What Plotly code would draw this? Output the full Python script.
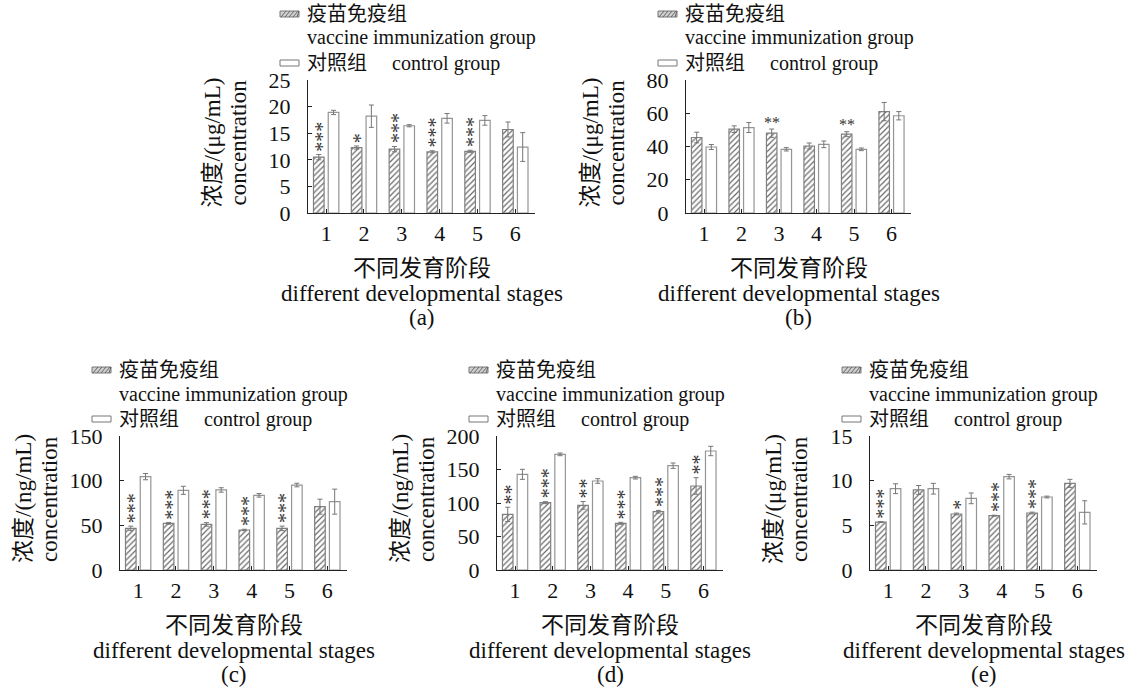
import plotly.graph_objects as go

W, H = 1137, 695

def px(x):
    return x / W

def py(y):
    return 1 - y / H

FONT = "Liberation Serif, Times New Roman, Noto Sans CJK SC, serif"

# ---------------- data ----------------
stages = ["1", "2", "3", "4", "5", "6"]

a_vac = [10.5, 12.3, 12.0, 11.5, 11.6, 15.7]
a_vac_err = [0.5, 0.3, 0.5, 0.2, 0.2, 1.4]
a_ctl = [18.9, 18.2, 16.4, 17.8, 17.4, 12.4]
a_ctl_err = [0.4, 2.1, 0.2, 0.9, 0.9, 2.7]
a_sig = ["***", "*", "***", "***", "***", ""]

b_vac = [45.4, 50.4, 48.0, 40.3, 47.4, 61.0]
b_vac_err = [3.2, 2.0, 2.5, 1.8, 1.5, 5.5]
b_ctl = [39.7, 51.4, 38.3, 41.3, 38.3, 58.5]
b_ctl_err = [1.5, 3.0, 1.0, 2.0, 0.8, 2.5]
b_sig = ["", "", "**", "", "**", ""]

c_vac = [46.6, 52.2, 51.0, 44.8, 46.6, 70.9]
c_vac_err = [2.5, 1.0, 2.0, 0.8, 2.5, 8.4]
c_ctl = [104.5, 89.2, 89.6, 83.6, 95.1, 76.5]
c_ctl_err = [3.5, 4.5, 2.5, 2.0, 2.0, 14.0]
c_sig = ["***", "***", "***", "***", "***", ""]

d_vac = [83.0, 100.5, 96.5, 69.7, 87.0, 125.4]
d_vac_err = [10.7, 1.5, 5.7, 1.5, 2.0, 12.4]
d_ctl = [142.8, 172.6, 132.8, 137.8, 155.7, 177.6]
d_ctl_err = [7.5, 2.0, 3.5, 2.0, 4.0, 7.0]
d_sig = ["**", "***", "**", "***", "***", "**"]

e_vac = [5.37, 8.96, 6.27, 6.08, 6.38, 9.7]
e_vac_err = [0.05, 0.5, 0.1, 0.05, 0.1, 0.45]
e_ctl = [9.1, 9.1, 8.02, 10.45, 8.17, 6.45]
e_ctl_err = [0.55, 0.6, 0.6, 0.25, 0.1, 1.3]
e_sig = ["***", "", "*", "***", "***", ""]

legend_vac_cn = "疫苗免疫组"
legend_vac_en = "vaccine immunization group"
legend_ctl = "对照组\u3000 control group"
x_title_cn = "不同发育阶段"
x_title_en = "different developmental stages"
y_title_en = "concentration"

panels = [
    dict(label="(a)", L=308, R=535, T=80, B=213, ymax=25, dtick=5, unit="浓度/(μg/mL)",
         vac=a_vac, vac_err=a_vac_err, ctl=a_ctl, ctl_err=a_ctl_err, sig=a_sig, horiz=False),
    dict(label="(b)", L=686, R=911, T=80, B=213, ymax=80, dtick=20, unit="浓度/(μg/mL)",
         vac=b_vac, vac_err=b_vac_err, ctl=b_ctl, ctl_err=b_ctl_err, sig=b_sig, horiz=True),
    dict(label="(c)", L=120, R=347, T=436, B=570, ymax=150, dtick=50, unit="浓度/(ng/mL)",
         vac=c_vac, vac_err=c_vac_err, ctl=c_ctl, ctl_err=c_ctl_err, sig=c_sig, horiz=False),
    dict(label="(d)", L=497, R=723, T=436, B=570, ymax=200, dtick=50, unit="浓度/(ng/mL)",
         vac=d_vac, vac_err=d_vac_err, ctl=d_ctl, ctl_err=d_ctl_err, sig=d_sig, horiz=False),
    dict(label="(e)", L=870, R=1097, T=436, B=570, ymax=15, dtick=5, unit="浓度/(μg/mL)",
         vac=e_vac, vac_err=e_vac_err, ctl=e_ctl, ctl_err=e_ctl_err, sig=e_sig, horiz=False),
]

xpos = list(range(1, len(stages) + 1))
BAR_W = 0.28
VAC_OFF = -0.335
CTL_OFF = 0.055
STAR_COLOR = "#333333"

fig = go.Figure()
annotations = []
shapes = []
layout = {}

for i, p in enumerate(panels):
    n = "" if i == 0 else str(i + 1)
    xa, ya = "x" + n, "y" + n
    fig.add_trace(go.Bar(
        x=xpos, y=p["vac"], width=BAR_W, offset=VAC_OFF, xaxis=xa, yaxis=ya,
        marker=dict(color="#cfcfcf", line=dict(color="#808080", width=1.2),
                    pattern=dict(shape="/", fgcolor="#686868", size=4, solidity=0.3)),
        error_y=dict(type="data", array=p["vac_err"], color="#777777", thickness=1, width=2.5),
        showlegend=False, hoverinfo="skip"))
    fig.add_trace(go.Bar(
        x=xpos, y=p["ctl"], width=BAR_W, offset=CTL_OFF, xaxis=xa, yaxis=ya,
        marker=dict(color="white", line=dict(color="#959595", width=1.2)),
        error_y=dict(type="data", array=p["ctl_err"], color="#777777", thickness=1, width=2.5),
        showlegend=False, hoverinfo="skip"))

    L, R, T, B = p["L"], p["R"], p["T"], p["B"]
    layout["xaxis" + n] = dict(
        domain=[px(L), px(R)], range=[0.52, 6.52], anchor=ya, automargin=False,
        showline=True, linecolor="#222", linewidth=1.3, mirror=False,
        ticks="inside", ticklen=4, tickcolor="#222", tickwidth=1,
        tickvals=xpos, ticktext=stages, showgrid=False, zeroline=False,
        tickfont=dict(family=FONT, size=22, color="#111"), ticklabelstandoff=0)
    layout["yaxis" + n] = dict(
        domain=[py(B), py(T)], range=[0, p["ymax"]], dtick=p["dtick"], anchor=xa,
        automargin=False, showline=True, linecolor="#222", linewidth=1.3,
        ticks="inside", ticklen=4, tickcolor="#222", tickwidth=1,
        showgrid=False, zeroline=False,
        tickfont=dict(family=FONT, size=22, color="#111"), ticklabelstandoff=12)

    # significance stars
    for k, s in enumerate(p["sig"]):
        if not s:
            continue
        top = p["vac"][k] + p["vac_err"][k]
        xc = xpos[k] + VAC_OFF + BAR_W / 2
        if p["horiz"]:
            annotations.append(dict(x=xc, y=top, xref=xa, yref=ya, text=s, showarrow=False,
                                    yanchor="middle", yshift=7,
                                    font=dict(family=FONT, size=16, color=STAR_COLOR)))
        else:
            annotations.append(dict(x=xc, y=top, xref=xa, yref=ya, text=s, showarrow=False,
                                    textangle=90, xanchor="center", yanchor="bottom",
                                    yshift=2, xshift=-3, borderpad=0,
                                    font=dict(family=FONT, size=20, color=STAR_COLOR)))

    cx = (L + R) / 2
    # x titles
    annotations.append(dict(x=px(cx), y=py(B + 55), xref="paper", yref="paper", text=x_title_cn,
                            showarrow=False, xanchor="center", yanchor="middle", borderpad=0,
                            font=dict(family=FONT, size=23, color="#111")))
    annotations.append(dict(x=px(cx), y=py(B + 80), xref="paper", yref="paper", text=x_title_en,
                            showarrow=False, xanchor="center", yanchor="middle", borderpad=0,
                            font=dict(family=FONT, size=23, color="#111")))
    annotations.append(dict(x=px(cx), y=py(B + 104), xref="paper", yref="paper", text=p["label"],
                            showarrow=False, xanchor="center", yanchor="middle", borderpad=0,
                            font=dict(family=FONT, size=23, color="#111")))
    # y titles
    cy = (T + B) / 2 - 4
    annotations.append(dict(x=px(L - 96), y=py(cy), xref="paper", yref="paper", text=p["unit"],
                            showarrow=False, textangle=-90, xanchor="center", yanchor="middle",
                            font=dict(family=FONT, size=23, color="#111")))
    annotations.append(dict(x=px(L - 70), y=py(cy), xref="paper", yref="paper", text=y_title_en,
                            showarrow=False, textangle=-90, xanchor="center", yanchor="middle",
                            font=dict(family=FONT, size=23, color="#111")))
    # legend
    tx = L - 3
    for txt, yy in ((legend_vac_cn, T - 66), (legend_vac_en, T - 42), (legend_ctl, T - 17)):
        annotations.append(dict(x=px(tx), y=py(yy), xref="paper", yref="paper", text=txt,
                                showarrow=False, xanchor="left", yanchor="middle",
                                font=dict(family=FONT, size=20, color="#111")))
    sx0, sx1 = L - 28, L - 9
    sy0, sy1 = T - 69, T - 63
    shapes.append(dict(type="rect", xref="paper", yref="paper", x0=px(sx0), x1=px(sx1),
                       y0=py(sy1), y1=py(sy0), fillcolor="#d0d0d0",
                       line=dict(color="#777", width=1)))
    for q in range(5):
        a0 = sx0 + 1 + 4 * q
        shapes.append(dict(type="line", xref="paper", yref="paper",
                           x0=px(a0), y0=py(sy1), x1=px(min(a0 + 5, sx1)), y1=py(sy0),
                           line=dict(color="#666", width=1)))
    shapes.append(dict(type="rect", xref="paper", yref="paper", x0=px(sx0), x1=px(sx1),
                       y0=py(T - 14), y1=py(T - 20), fillcolor="white",
                       line=dict(color="#777", width=1)))

fig.update_layout(
    template="none",
    width=W, height=H, margin=dict(l=0, r=0, t=0, b=0, pad=0),
    paper_bgcolor="white", plot_bgcolor="white", showlegend=False,
    barmode="overlay", annotations=annotations, shapes=shapes,
    font=dict(family=FONT, color="#111"), **layout)

fig.write_html("out.html", config={"displayModeBar": False},
               post_script="document.body.style.margin='0';document.body.style.overflow='hidden';")
